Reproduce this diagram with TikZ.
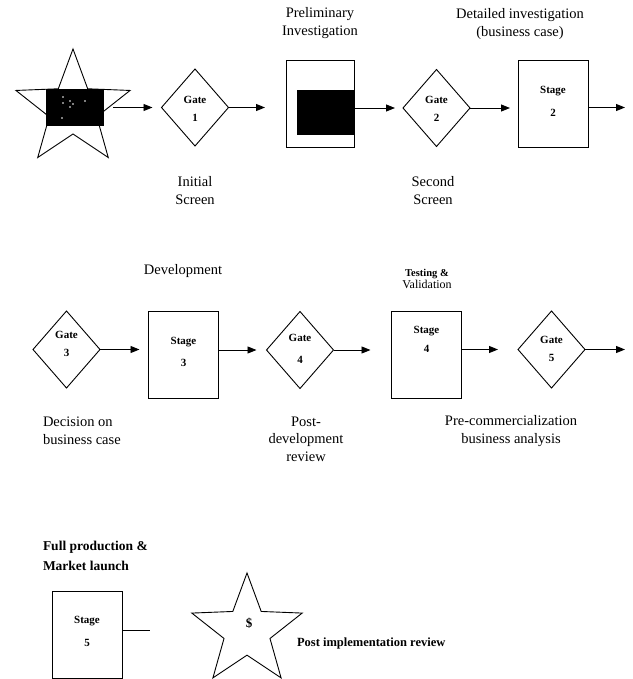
\documentclass[tikz,border=0pt]{standalone}
\usepackage{fontspec}
\setmainfont{Liberation Serif}
\usetikzlibrary{shapes.geometric,arrows.meta}
\begin{document}
\begin{tikzpicture}[x=1pt,y=-1pt,
  every node/.style={inner sep=0pt, outer sep=0pt},
  conn/.style={line width=0.9pt},
  arr/.style={conn,-{Triangle[length=9pt,width=7pt]}},
  gatebox/.style={draw, diamond, line width=0.9pt, minimum width=67pt, minimum height=77pt},
  stagebox/.style={draw, rectangle, line width=0.9pt, minimum width=70pt, minimum height=87pt},
  starbox/.style={draw, star, star points=5, star point ratio=2.4, line width=0.9pt},
  lbl/.style={font=\fontsize{14.5}{18}\selectfont, align=center},
  intxt/.style={font=\bfseries\fontsize{11}{18}\selectfont, align=center},
]
\useasboundingbox (0,0) rectangle (632,679);

% ---------- Row 1 ----------
\node[starbox, minimum size=120pt] (st1) at (73,109) {};
\fill (46,89) rectangle (104,126);
\foreach \p in {(63,97),(63,103),(70,101),(73,104),(70,107),(85,101),(62,118)}
  \fill[white] \p circle (0.9pt);

\node[gatebox] (g1) at (195,107.5) {};
\node[intxt] at (195,109) {Gate\\1};

\node[draw, rectangle, line width=0.9pt, minimum width=68pt, minimum height=87pt] (pre) at (320,103.5) {};
\fill (297,90) rectangle (354,135);

\node[gatebox] (g2) at (436.5,108) {};
\node[intxt] at (436.5,108.5) {Gate\\2};

\node[stagebox] (s2) at (553,103.5) {};
\node[intxt, font=\bfseries\fontsize{11}{23}\selectfont] at (553,101.5) {Stage\\2};

\coordinate (o1) at (625,107.5);

\draw[arr, shorten >=9pt] ([xshift=40pt]st1.center |- g1.west) -- (g1.west);
\draw[arr, shorten >=21pt] (g1.east) -- (g1.east -| pre.west);
\draw[arr, shorten >=8pt] (pre.east |- g2.west) -- (g2.west);
\draw[arr, shorten >=8pt] (g2.east) -- (g2.east -| s2.west);
\draw[arr] (s2.east |- o1) -- (o1);

\node[lbl] at (320,23.5) {Preliminary\\Investigation};
\node[lbl] at (520,24.5) {Detailed investigation\\(business case)};
\node[lbl] at (195,191) {Initial\\Screen};
\node[lbl] at (433,191) {Second\\Screen};

% ---------- Row 2 ----------
\node[gatebox] (g3) at (66.5,349.5) {};
\node[intxt] at (66.5,343.5) {Gate\\3};

\node[stagebox] (s3) at (183.5,354.5) {};
\node[intxt, font=\bfseries\fontsize{11}{22}\selectfont] at (183.5,352) {Stage\\3};

\node[gatebox] (g4) at (300,350) {};
\node[intxt, font=\bfseries\fontsize{11}{22}\selectfont] at (300,348.5) {Gate\\4};

\node[stagebox] (s4) at (426.5,354.5) {};
\node[intxt, font=\bfseries\fontsize{11}{19}\selectfont] at (426.5,339.5) {Stage\\4};

\node[gatebox] (g5) at (551.5,349.5) {};
\node[intxt] at (551.5,349) {Gate\\5};

\coordinate (o2) at (625,349.5);

\draw[arr, shorten >=9pt] (g3.east) -- (g3.east -| s3.west);
\draw[arr, shorten >=10pt] (s3.east |- g4.west) -- (g4.west);
\draw[arr, shorten >=21pt] (g4.east) -- (g4.east -| s4.west);
\draw[arr, shorten >=20pt] (s4.east |- g5.west) -- (g5.west);
\draw[arr] (g5.east) -- (o2);

\node[lbl] at (183,271) {Development};
\node[align=center] at (427,278.5)
  {\bfseries\fontsize{10.5}{15}\selectfont Testing \&\\
   \mdseries\fontsize{12}{15}\selectfont Validation};
\node[lbl, align=left, anchor=west] at (43,431) {Decision on\\business case};
\node[lbl, font=\fontsize{14.5}{17.5}\selectfont] at (306,439) {Post-\\development\\review};
\node[lbl] at (511,431) {Pre-commercialization\\business analysis};

% ---------- Row 3 ----------
\node[stagebox] (s5) at (87,634.5) {};
\node[intxt, font=\bfseries\fontsize{11}{23}\selectfont] at (87,631.5) {Stage\\5};
\coordinate (o3) at (150,630);
\draw[conn] (s5.east |- o3) -- (o3);

\node[starbox, minimum size=116pt] (st2) at (247,631) {};
\node[font=\bfseries\fontsize{13}{15}\selectfont] at (249,623) {\$};

\node[align=left, anchor=west, font=\bfseries\fontsize{13.5}{20}\selectfont] at (43,556)
  {Full production \&\\Market launch};
\node[anchor=west, font=\bfseries\fontsize{12.5}{15}\selectfont] at (297,643)
  {Post implementation review};
\end{tikzpicture}
\end{document}
